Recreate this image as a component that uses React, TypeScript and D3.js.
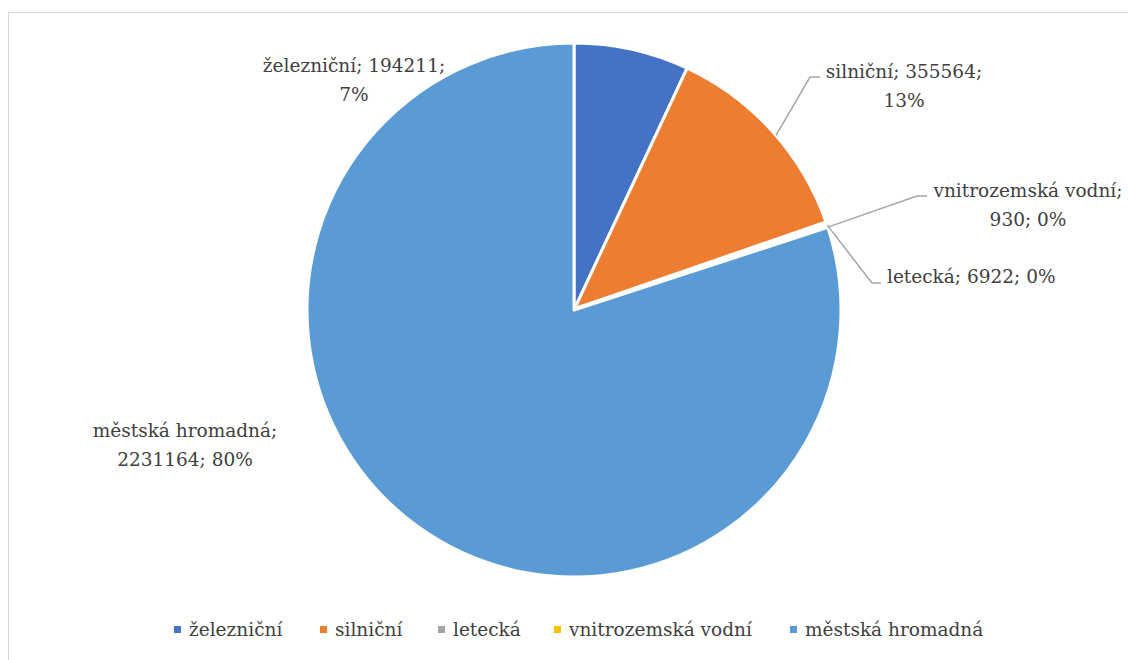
import React from "react";
import * as d3 from "d3";

const categories = ["železniční", "silniční", "letecká", "vnitrozemská vodní", "městská hromadná"];
const values = [194211, 355564, 6922, 930, 2231164];
const colors = ["#4472C4", "#ED7D31", "#A5A5A5", "#FFC000", "#5B9BD5"];

const W = 1128;
const H = 660;
const cx = 574;
const cy = 310;
const R = 267;
const FONT = "DejaVu Serif";
const TEXT = "#404040";
const FS = "18.5px";
const LH = 28.5;

export default function App() {
  const total = d3.sum(values);
  const pie = d3.pie<number>().sort(null).value((d) => d);
  const arcs = pie(values);
  const arcGen = d3.arc<d3.PieArcDatum<number>>().innerRadius(0).outerRadius(R);
  const pct = (v: number) => `${Math.round((v / total) * 100)}%`;

  const edge = (a: number, r = R): [number, number] => [cx + r * Math.sin(a), cy - r * Math.cos(a)];
  const midAngle = (i: number) => (arcs[i].startAngle + arcs[i].endAngle) / 2;

  const labels = [
    { lines: [`${categories[0]}; ${values[0]};`, pct(values[0])], x: 354, y: 72, anchor: "middle", leader: null },
    {
      lines: [`${categories[1]}; ${values[1]};`, pct(values[1])],
      x: 904, y: 78, anchor: "middle",
      leader: [edge(midAngle(1) + 0.02), [810, 77], [820, 77]],
    },
    {
      lines: [`${categories[3]};`, `${values[3]}; ${pct(values[3])}`],
      x: 1028, y: 197, anchor: "middle",
      leader: [edge(midAngle(3)), [917, 196], [927, 196]],
    },
    {
      lines: [`${categories[2]}; ${values[2]}; ${pct(values[2])}`],
      x: 887, y: 283, anchor: "start",
      leader: [edge(midAngle(2)), [872, 283], [881, 283]],
    },
    { lines: [`${categories[4]};`, `${values[4]}; ${pct(values[4])}`], x: 185, y: 437, anchor: "middle", leader: null },
  ];

  const legendX = [174, 320, 438, 554, 790];
  const line = d3.line();
  const textStyle = { fontFamily: FONT, fontSize: FS };

  return (
    <svg width={W} height={H} style={{ position: "absolute", left: 0, top: 0, background: "#fff" }}>
      <rect x={8.5} y={12.5} width={W + 20} height={H + 20} fill="#fff" stroke="#d9d9d9" strokeWidth={1} />
      <g transform={`translate(${cx},${cy})`}>
        {arcs.map((a, i) => (
          <path
            key={i}
            d={arcGen(a) || ""}
            fill={colors[i]}
            stroke="#fff"
            strokeWidth={a.endAngle - a.startAngle < 0.03 ? 5 : 3}
            strokeLinejoin="round"
          />
        ))}
      </g>
      <g>
        {labels.map((l, i) => (
          <g key={i}>
            {l.leader && (
              <path d={line(l.leader as [number, number][]) || ""} fill="none" stroke="#a6a6a6" strokeWidth={1.5} />
            )}
            <text x={l.x} y={l.y} textAnchor={l.anchor} style={textStyle} fill={TEXT}>
              {l.lines.map((t, j) => (
                <tspan key={j} x={l.x} dy={j === 0 ? 0 : LH}>
                  {t}
                </tspan>
              ))}
            </text>
          </g>
        ))}
      </g>
      <g>
        {categories.map((c, i) => (
          <g key={i}>
            <rect x={legendX[i]} y={626} width={7} height={7} fill={colors[i]} />
            <text x={legendX[i] + 15} y={636} style={textStyle} fill={TEXT}>
              {c}
            </text>
          </g>
        ))}
      </g>
    </svg>
  );
}
